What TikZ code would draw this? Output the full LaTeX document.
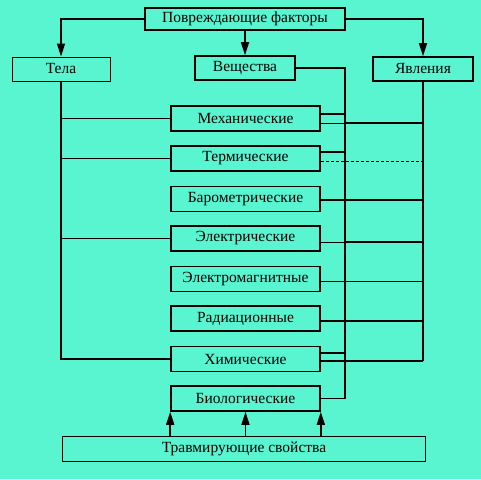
\documentclass[tikz,border=0pt]{standalone}
\usepackage{fontspec}
\setmainfont{Liberation Serif}
\usetikzlibrary{arrows.meta}
\definecolor{bgc}{RGB}{88,245,208}
\begin{document}
\begin{tikzpicture}[x=1pt,y=-1pt,
  box/.style={draw=black,line width=1.6pt,fill=bgc,rectangle,inner sep=0pt,font=\fontsize{15.5}{17}\selectfont},
  mid/.style={box,minimum width=149pt,minimum height=25pt},
  con/.style={draw=black,line width=1.5pt},
  tcon/.style={draw=black,line width=0.9pt},
  arr/.style={con,-{Triangle[length=13pt,width=8pt]}}]
\fill[bgc] (0,0) rectangle (481,479);
\useasboundingbox (0,0) rectangle (481,479);
\node[box,minimum width=200pt,minimum height=22pt] (top) at (245,19) {Повреждающие факторы};
\node[box,minimum width=98pt,minimum height=24pt,line width=1pt] (tela) at (61,69) {Тела};
\node[box,minimum width=100pt,minimum height=24pt] (ves) at (245,68) {Вещества};
\node[box,minimum width=100pt,minimum height=24pt] (yav) at (423,69) {Явления};
\node[mid] (mech) at (245.5,118.5) {Механические};
\node[mid] (term) at (245.5,158.5) {Термические};
\node[mid] (baro) at (245.5,199) {Барометрические};
\node[mid] (elec) at (245.5,238.5) {Электрические};
\node[mid] (emag) at (245.5,279) {Электромагнитные};
\node[mid] (rad) at (245.5,318.5) {Радиационные};
\node[mid] (him) at (245.5,359) {Химические};
\node[mid] (bio) at (245.5,398.5) {Биологические};
\node[box,minimum width=363pt,minimum height=25pt] (trav) at (244,449) {Травмирующие свойства};
\coordinate (vx) at (345,0);
% top arrows
\draw[arr] (top.west) -| (tela.north);
\draw[arr] (top.south) -- (ves.north);
\draw[arr] (top.east) -| (yav.north);
% Tela
\draw[con] (tela.south) |- (him.west);
\draw[con] (tela.south |- mech.west) -- (mech.west);
\draw[con] (tela.south |- term.west) -- (term.west);
\draw[con] (tela.south |- elec.west) -- (elec.west);
% Veshchestva
\draw[con] (ves.east) -- (ves.east -| vx) -- (vx |- bio.east) -- (bio.east);
\draw[con] ([yshift=4.5pt]mech.east) -- ([yshift=4.5pt]mech.east -| vx);
\draw[con] ([yshift=6.5pt]term.east) -- ([yshift=6.5pt]term.east -| vx);
\draw[con] ([yshift=6pt]him.east) -- ([yshift=6pt]him.east -| vx);
% Yavleniya
\draw[con] (yav.south) -- ([yshift=-2pt]yav.south |- him.east);
\draw[tcon] ([yshift=-4.5pt]mech.east) -- ([yshift=-4.5pt]mech.east -| vx);
\draw[con] ([yshift=-4.5pt]mech.east -| vx) -- ([yshift=-4.5pt]mech.east -| yav.south);
\draw[tcon,densely dashed] ([yshift=-2.5pt]term.east) -- ([yshift=-2.5pt]term.east -| yav.south);
\draw[con] ([yshift=-1pt]baro.east) -- ([yshift=-1pt]baro.east -| yav.south);
\draw[tcon] ([yshift=-3.5pt]elec.east) -- ([yshift=-3.5pt]elec.east -| vx);
\draw[con] ([yshift=-3.5pt]elec.east -| vx) -- ([yshift=-3.5pt]elec.east -| yav.south);
\draw[tcon] ([yshift=-2pt]emag.east) -- ([yshift=-2pt]emag.east -| yav.south);
\draw[con] ([yshift=-2.5pt]rad.east) -- ([yshift=-2.5pt]rad.east -| yav.south);
\draw[con] ([yshift=-2pt]him.east) -- ([yshift=-2pt]him.east -| yav.south);
% bottom arrows
\draw[arr] (trav.north -| bio.south west) -- (bio.south west);
\draw[arr] (trav.north -| bio.south) -- (bio.south);
\draw[arr] (trav.north -| bio.south east) -- (bio.south east);
\end{tikzpicture}
\end{document}
